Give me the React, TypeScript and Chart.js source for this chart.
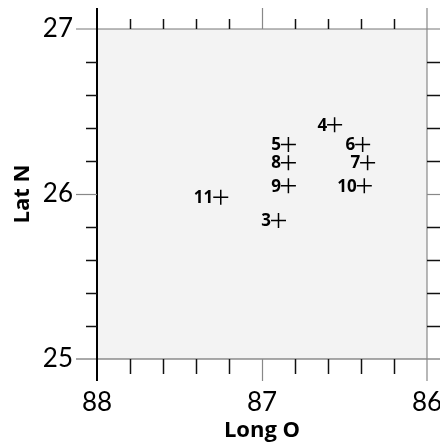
import React, { useEffect, useRef } from "react";
import { Chart, registerables } from "chart.js";

Chart.register(...registerables);

const pointLabels = ["3", "4", "5", "6", "7", "8", "9", "10", "11"];
const longitudes = [86.9, 86.56, 86.84, 86.39, 86.36, 86.84, 86.84, 86.38, 87.25];
const latitudes = [25.84, 26.42, 26.3, 26.3, 26.19, 26.19, 26.05, 26.05, 25.98];

const xMajor = [87];
const yMajor = [26];
const xMinor = [87.8, 87.6, 87.4, 87.2, 86.8, 86.6, 86.4, 86.2];
const yMinor = [26.8, 26.6, 26.4, 26.2, 25.8, 25.6, 25.4, 25.2];

const FONT = "Lato";
const BOLD_FONT = "'Open Sans', 'Noto Sans', sans-serif";

const framePlugin = {
  id: "frame",
  beforeDatasetsDraw(chart: any) {
    const { ctx, chartArea } = chart;
    const { left, right, top, bottom } = chartArea;
    ctx.save();
    ctx.fillStyle = "#f3f3f3";
    ctx.fillRect(left, top, right - left, bottom - top);
    ctx.restore();
  },
  afterDatasetsDraw(chart: any) {
    const { ctx, chartArea, scales } = chart;
    const { left, right, top, bottom } = chartArea;
    const xs = scales.x;
    const ys = scales.y;
    const line = (x1: number, y1: number, x2: number, y2: number, color: string, w: number) => {
      ctx.beginPath();
      ctx.strokeStyle = color;
      ctx.lineWidth = w;
      ctx.moveTo(x1, y1);
      ctx.lineTo(x2, y2);
      ctx.stroke();
    };
    ctx.save();
    line(left - 21, top, 440, top, "#777", 1);
    line(left - 21, bottom, 440, bottom, "#555", 1);
    line(right, top - 21, right, bottom + 22, "#888", 1.2);
    line(left, top - 21, left, bottom + 22, "#000", 2);
    xMajor.forEach((v) => {
      const px = Math.round(xs.getPixelForValue(v)) + 0.5;
      line(px, top - 21, px, top, "#888", 1.2);
      line(px, bottom, px, bottom + 22, "#888", 1.2);
    });
    yMajor.forEach((v) => {
      const py = Math.round(ys.getPixelForValue(v)) + 0.5;
      line(left - 21, py, left, py, "#888", 1.2);
      line(right, py, 440, py, "#888", 1.2);
    });
    xMinor.forEach((v) => {
      const px = Math.round(xs.getPixelForValue(v)) + 0.5;
      line(px, top - 10, px, top, "#111", 1.5);
      line(px, bottom, px, bottom + 15, "#111", 1.5);
    });
    yMinor.forEach((v) => {
      const py = Math.round(ys.getPixelForValue(v)) + 0.5;
      line(left - 11, py, left, py, "#111", 1.5);
      line(right, py, right + 13, py, "#111", 1.5);
    });
    const meta = chart.getDatasetMeta(0);
    ctx.fillStyle = "#000";
    ctx.font = `bold 17px ${BOLD_FONT}`;
    ctx.textAlign = "right";
    ctx.textBaseline = "middle";
    meta.data.forEach((pt: any, i: number) => {
      ctx.fillText(pointLabels[i], pt.x - 7.5, pt.y + 1);
    });
    ctx.restore();
  },
};

export default function App() {
  const ref = useRef<HTMLCanvasElement | null>(null);
  useEffect(() => {
    if (!ref.current) return;
    const chart = new Chart(ref.current, {
      type: "scatter",
      data: {
        datasets: [
          {
            data: longitudes.map((x, i) => ({ x, y: latitudes[i] })),
            pointStyle: "cross",
            pointRadius: 7.5,
            pointBorderWidth: 1.5,
            borderColor: "#000",
            backgroundColor: "#000",
          },
        ],
      },
      options: {
        responsive: false,
        animation: false,
        layout: { padding: { left: 0, top: 29, right: 13, bottom: 0 } },
        plugins: { legend: { display: false }, tooltip: { enabled: false } },
        scales: {
          x: {
            type: "linear",
            min: 86,
            max: 88,
            reverse: true,
            position: "bottom",
            grid: { display: false, drawTicks: false },
            border: { display: false },
            ticks: { stepSize: 1, padding: 28, color: "#000", font: { family: FONT, size: 26 } },
            title: {
              display: true,
              text: "Long O",
              color: "#000",
              font: { family: BOLD_FONT, size: 22, weight: "bold" },
              padding: { top: 0, bottom: 0 },
            },
            afterFit: (s: any) => {
              s.height = 85;
              s.paddingLeft = 0;
              s.paddingRight = 0;
            },
          },
          y: {
            type: "linear",
            min: 25,
            max: 27,
            position: "left",
            grid: { display: false, drawTicks: false },
            border: { display: false },
            ticks: { stepSize: 1, padding: 24, color: "#000", font: { family: FONT, size: 26 } },
            title: {
              display: true,
              text: "Lat N",
              color: "#000",
              font: { family: BOLD_FONT, size: 22, weight: "bold" },
              padding: { top: 10, bottom: 0 },
            },
            afterFit: (s: any) => {
              s.width = 97;
              s.paddingTop = 0;
              s.paddingBottom = 0;
            },
          },
        },
      } as any,
      plugins: [framePlugin],
    });
    const fonts = (document as any).fonts;
    if (fonts && fonts.load) {
      Promise.all([
        fonts.load(`bold 17px 'Open Sans'`),
        fonts.load(`bold 22px 'Noto Sans'`),
        fonts.load(`26px ${FONT}`),
      ])
        .then(() => chart.update())
        .catch(() => {});
    }
    return () => chart.destroy();
  }, []);
  return (
    <div style={{ position: "absolute", left: 0, top: 0, width: 440, height: 444, background: "#fff" }}>
      <canvas ref={ref} width={440} height={444} />
    </div>
  );
}
